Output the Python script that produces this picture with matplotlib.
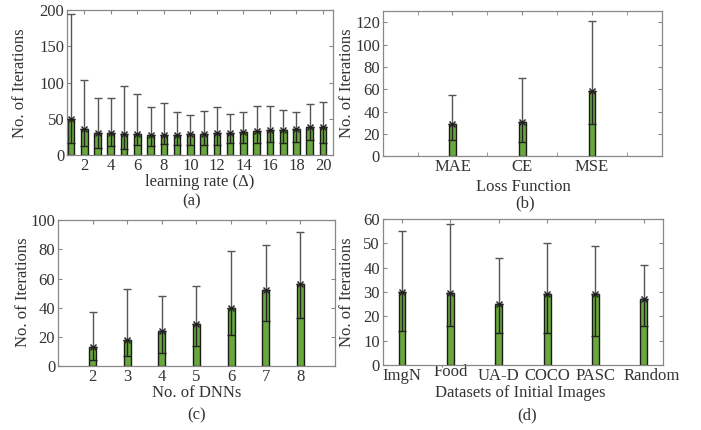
import numpy as np
import matplotlib.pyplot as plt
from matplotlib.transforms import ScaledTranslation

plt.rcParams['font.family'] = ['Liberation Serif', 'DejaVu Serif']
plt.rcParams['font.size'] = 12
plt.rcParams['text.color'] = '#333333'
plt.rcParams['xtick.color'] = '#888888'
plt.rcParams['ytick.color'] = '#888888'
plt.rcParams['xtick.labelcolor'] = '#333333'
plt.rcParams['ytick.labelcolor'] = '#333333'

# (a) learning rate
lr_x = list(range(1, 21))
lr_mean = [50, 36, 31, 30, 29, 29, 28, 28, 28, 29, 29, 30, 31, 32, 33, 34, 35, 36, 38, 39]
lr_low = [16, 12, 10, 12, 8, 14, 12, 15, 14, 14, 14, 14, 16, 17, 17, 18, 17, 18, 21, 16]
lr_high = [195, 104, 78, 78, 95, 84, 66, 72, 60, 55, 61, 66, 57, 60, 67, 67, 62, 59, 71, 73]

# (b) loss function
loss_names = ['MAE', 'CE', 'MSE']
loss_mean = [29, 31, 58]
loss_low = [14, 13, 29]
loss_high = [55, 70, 121]

# (c) number of DNNs
dnn_x = [2, 3, 4, 5, 6, 7, 8]
dnn_mean = [13, 18, 24, 29, 40, 52, 56]
dnn_low = [4, 7, 9, 14, 21, 31, 33]
dnn_high = [37, 53, 48, 55, 79, 83, 92]

# (d) datasets of initial images
ds_names = ['ImgN', 'Food', 'UA-D', 'COCO', 'PASC', 'Random']
ds_mean = [30, 29.5, 25, 29, 29, 27]
ds_low = [14, 16, 13, 13, 12, 16]
ds_high = [55, 58, 44, 50, 49, 41]

green = '#69a83c'


def draw(ax, x, mean, low, high, width):
    x = np.array(x, dtype=float)
    mean = np.array(mean, dtype=float)
    low = np.array(low, dtype=float)
    high = np.array(high, dtype=float)
    ax.bar(x, mean, width, color=green, edgecolor='#1a1a1a', linewidth=1.0, zorder=2)
    # upper whisker (mean -> high)
    ax.errorbar(x, mean, yerr=[np.zeros_like(mean), high - mean], fmt='none',
                ecolor='#555555', elinewidth=1.0, capsize=3, capthick=1.0, zorder=3)
    # lower whisker (low -> mean)
    ax.errorbar(x, mean, yerr=[mean - low, np.zeros_like(mean)], fmt='none',
                ecolor='#222222', elinewidth=1.0, capsize=3, capthick=1.0, zorder=3)
    ax.plot(x, mean, 'x', color='#222222', ms=4, mew=1.0, zorder=4)


def style(ax):
    for s in ax.spines.values():
        s.set_color('#888888')
        s.set_linewidth(0.9)
    ax.tick_params(direction='in', top=True, right=True, length=3, pad=2)
    ax.tick_params(which='minor', direction='in', top=True, right=True, length=3)


fig = plt.figure(figsize=(7.01, 4.30), dpi=100)

ax1 = fig.add_axes([0.0956, 0.6395, 0.3794, 0.3372])
draw(ax1, lr_x, lr_mean, lr_low, lr_high, 0.5)
ax1.set_xlim(0.7, 20.75)
ax1.set_ylim(0, 200)
ax1.set_xticks(range(2, 21, 2))
ax1.set_yticks([0, 50, 100, 150, 200])
style(ax1)

ax2 = fig.add_axes([0.546, 0.637, 0.398, 0.337])
draw(ax2, [1, 2, 3], loss_mean, loss_low, loss_high, 0.1)
ax2.set_xlim(0, 4)
ax2.set_ylim(0, 130)
ax2.set_xticks([1, 2, 3])
ax2.set_xticklabels(loss_names)
ax2.set_xticks(np.arange(0.5, 4, 0.5), minor=True)
ax2.set_yticks(range(0, 121, 20))
style(ax2)

ax3 = fig.add_axes([0.0827, 0.1488, 0.3951, 0.3392])
draw(ax3, dnn_x, dnn_mean, dnn_low, dnn_high, 0.2)
ax3.set_xlim(1, 9)
ax3.set_ylim(0, 100)
ax3.set_xticks(dnn_x)
ax3.set_yticks(range(0, 101, 20))
style(ax3)

ax4 = fig.add_axes([0.546, 0.151, 0.4, 0.3397])
draw(ax4, range(1, 7), ds_mean, ds_low, ds_high, 0.14)
ax4.set_xlim(0.6, 6.4)
ax4.set_ylim(0, 60)
ax4.set_xticks(range(1, 7))
ax4.set_xticklabels(ds_names)
ax4.set_yticks(range(0, 61, 10))
style(ax4)
# small label offsets as in the original: "Food" sits higher, "Random" to the right
labs = ax4.get_xticklabels()
labs[1].set_transform(labs[1].get_transform() + ScaledTranslation(0, 3 / 72, fig.dpi_scale_trans))
labs[-1].set_transform(labs[-1].get_transform() + ScaledTranslation(6 / 72, 0, fig.dpi_scale_trans))

W, H = 701, 430


def ftext(x, y, s, **kw):
    fig.text(x / W, 1 - y / H, s, ha='center', va='center', **kw)


ftext(200, 182, 'learning rate (Δ)')
ftext(192, 201, '(a)')
ftext(523, 187, 'Loss Function')
ftext(525, 203, '(b)')
ftext(197, 393, 'No. of DNNs')
ftext(197, 415, '(c)')
ftext(520, 393, 'Datasets of Initial Images')
ftext(527, 415, '(d)')

ftext(20, 83, 'No. of Iterations', rotation=90)
ftext(347, 83, 'No. of Iterations', rotation=90)
ftext(23, 292, 'No. of Iterations', rotation=90)
ftext(347, 292, 'No. of Iterations', rotation=90)

fig.savefig('out.png', dpi=100)
